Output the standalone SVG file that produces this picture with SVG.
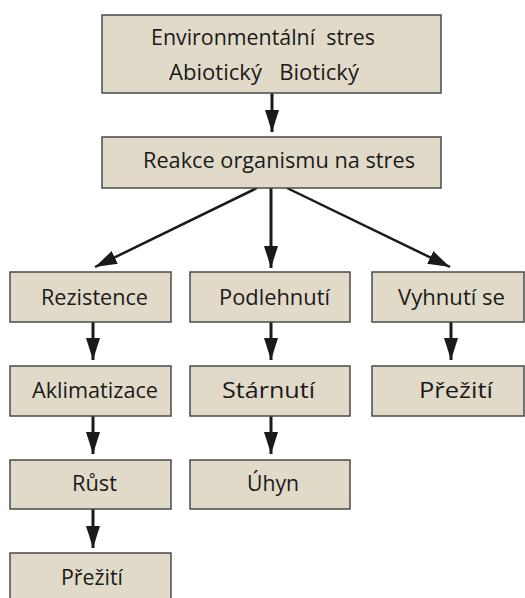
<svg xmlns="http://www.w3.org/2000/svg" width="525" height="598" viewBox="0 0 525 598">
<style>
.box{fill:#e2dac9;stroke:#4a4a4a;stroke-width:1.5}
.t{font-family:"Open Sans","Liberation Sans",sans-serif;font-size:21px;fill:#1a1a1a}
.c{stroke:#1a1a1a;stroke-width:3;fill:none}
.d{stroke:#1a1a1a;stroke-width:2.5;fill:none}
</style>
<defs>
<marker id="ah" markerUnits="userSpaceOnUse" markerWidth="22" markerHeight="14" refX="22" refY="7" orient="auto">
<path d="M0,0 L22,7 L0,14 z" fill="#1a1a1a"/>
</marker>
</defs>
<rect width="525" height="598" fill="#ffffff"/>
<g id="connectors">
<line class="c" x1="272" y1="93" x2="272" y2="132" marker-end="url(#ah)"/>
<line class="d" x1="257" y1="188" x2="95" y2="267" marker-end="url(#ah)"/>
<line class="c" x1="271" y1="188" x2="271" y2="268" marker-end="url(#ah)"/>
<line class="d" x1="287" y1="188" x2="450" y2="267" marker-end="url(#ah)"/>
<line class="c" x1="93" y1="322" x2="93" y2="360" marker-end="url(#ah)"/>
<line class="c" x1="271" y1="322" x2="271" y2="360" marker-end="url(#ah)"/>
<line class="c" x1="451" y1="322" x2="451" y2="360" marker-end="url(#ah)"/>
<line class="c" x1="93" y1="416" x2="93" y2="454" marker-end="url(#ah)"/>
<line class="c" x1="271" y1="416" x2="271" y2="454" marker-end="url(#ah)"/>
<line class="c" x1="93" y1="509" x2="93" y2="548" marker-end="url(#ah)"/>
</g>
<g id="env">
<rect class="box" x="102" y="15" width="339" height="78"/>
<text class="t" x="151" y="45" textLength="224" lengthAdjust="spacingAndGlyphs" xml:space="preserve">Environmentální  stres</text>
<text class="t" x="169" y="80" textLength="190" lengthAdjust="spacingAndGlyphs" xml:space="preserve">Abiotický   Biotický</text>
</g>
<g id="reakce">
<rect class="box" x="102" y="137" width="339" height="51"/>
<text class="t" x="143" y="168" textLength="272" lengthAdjust="spacingAndGlyphs">Reakce organismu na stres</text>
</g>
<g id="rezistence">
<rect class="box" x="10" y="272" width="161" height="50"/>
<text class="t" x="41" y="305" textLength="107" lengthAdjust="spacingAndGlyphs">Rezistence</text>
</g>
<g id="podlehnuti">
<rect class="box" x="190" y="272" width="160" height="50"/>
<text class="t" x="219" y="305" textLength="111" lengthAdjust="spacingAndGlyphs">Podlehnutí</text>
</g>
<g id="vyhnuti">
<rect class="box" x="372" y="272" width="152" height="50"/>
<text class="t" x="398" y="305" textLength="107" lengthAdjust="spacingAndGlyphs">Vyhnutí se</text>
</g>
<g id="aklimatizace">
<rect class="box" x="10" y="366" width="161" height="50"/>
<text class="t" x="32" y="398" textLength="126" lengthAdjust="spacingAndGlyphs">Aklimatizace</text>
</g>
<g id="starnuti">
<rect class="box" x="190" y="366" width="160" height="50"/>
<text class="t" x="222" y="398" textLength="93" lengthAdjust="spacingAndGlyphs">Stárnutí</text>
</g>
<g id="preziti2">
<rect class="box" x="372" y="366" width="152" height="50"/>
<text class="t" x="419" y="398" textLength="74" lengthAdjust="spacingAndGlyphs">Přežití</text>
</g>
<g id="rust">
<rect class="box" x="10" y="460" width="161" height="49"/>
<text class="t" x="72" y="491" textLength="45" lengthAdjust="spacingAndGlyphs">Růst</text>
</g>
<g id="uhyn">
<rect class="box" x="190" y="460" width="160" height="49"/>
<text class="t" x="247" y="491" textLength="52" lengthAdjust="spacingAndGlyphs">Úhyn</text>
</g>
<g id="preziti1">
<rect class="box" x="10" y="553" width="161" height="50"/>
<text class="t" x="61" y="585" textLength="62" lengthAdjust="spacingAndGlyphs">Přežití</text>
</g>
</svg>
